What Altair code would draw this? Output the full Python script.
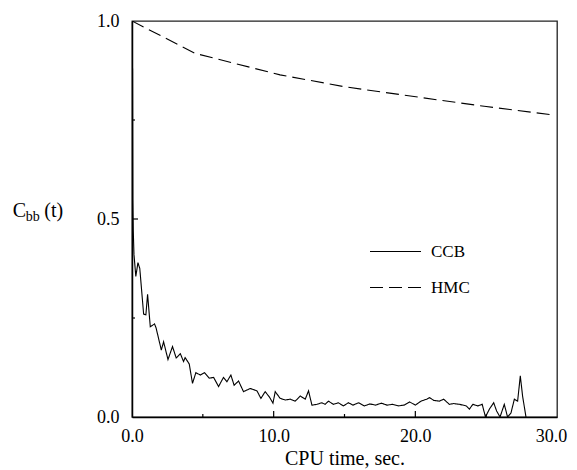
import altair as alt
import pandas as pd

# CCB series (CPU time in sec, C_bb)
ccb_t = [0.00, 0.02, 0.04, 0.06, 0.09, 0.14, 0.27, 0.42, 0.55, 0.82, 0.98, 1.10, 1.29, 1.59, 1.70,
         2.07, 2.23, 2.54, 2.86, 3.12, 3.41, 3.64, 3.75, 4.04, 4.27, 4.51, 4.82, 5.12, 5.45, 5.76,
         6.11, 6.46, 6.70, 6.98, 7.21, 7.52, 7.87, 8.35, 8.82, 9.10, 9.40, 9.69, 9.95, 10.11, 10.46,
         10.82, 11.17, 11.52, 11.88, 12.23, 12.46, 12.70, 13.05, 13.40, 13.63, 13.87, 14.22, 14.57,
         14.92, 15.27, 15.6, 16.0, 16.4, 16.8, 17.2, 17.6, 18.0, 18.4, 18.8, 19.2, 19.6, 20.0, 20.4,
         20.8, 21.0, 21.3, 21.7, 22.0, 22.4, 22.7, 23.12, 23.59, 23.82, 24.06, 24.41, 24.72, 24.95,
         25.23, 25.53, 25.74, 25.98, 26.28, 26.51, 26.75, 26.99, 27.22, 27.41, 27.57, 27.81]
ccb_c = [1.00, 0.70, 0.88, 0.55, 0.47, 0.41, 0.355, 0.39, 0.375, 0.26, 0.258, 0.31, 0.228, 0.235, 0.225,
         0.169, 0.19, 0.145, 0.178, 0.149, 0.16, 0.14, 0.15, 0.134, 0.085, 0.112, 0.106, 0.112, 0.098, 0.10,
         0.077, 0.10, 0.089, 0.106, 0.08, 0.091, 0.064, 0.072, 0.066, 0.047, 0.064, 0.051, 0.035, 0.064, 0.047,
         0.043, 0.045, 0.04, 0.053, 0.045, 0.066, 0.03, 0.032, 0.036, 0.032, 0.04, 0.032, 0.036,
         0.028, 0.036, 0.03, 0.036, 0.028, 0.033, 0.03, 0.035, 0.03, 0.032, 0.028, 0.03, 0.038, 0.03, 0.04,
         0.045, 0.049, 0.042, 0.04, 0.045, 0.032, 0.034, 0.032, 0.028, 0.02, 0.032, 0.028, 0.032, 0.0,
         0.02, 0.036, 0.015, 0.0, 0.032, 0.0, 0.01, 0.045, 0.04, 0.104, 0.053, 0.0]

# HMC series
hmc_t = [0.0, 4.47, 10.45, 15.0, 20.35, 25.0, 29.7]
hmc_c = [1.0, 0.918, 0.864, 0.834, 0.807, 0.784, 0.763]

x_labels = [0, 10, 20, 30]
y_labels = [0.0, 0.5, 1.0]
x_major_ticks = [10, 20]
x_minor_ticks = [5, 15, 25]
y_major_ticks = [0.5]
y_minor_ticks = [0.25, 0.75]

series = ["CCB", "HMC"]

df = pd.concat([
    pd.DataFrame({"t": ccb_t, "c": ccb_c, "method": "CCB"}),
    pd.DataFrame({"t": hmc_t, "c": hmc_c, "method": "HMC"}),
])

W, H = 425, 396
SERIF = "Liberation Serif"

xscale = alt.Scale(domain=[0, 30], nice=False, zero=False)
yscale = alt.Scale(domain=[0, 1], nice=False)

lines = alt.Chart(df).mark_line(color="black", strokeWidth=1.1, clip=True).encode(
    x=alt.X("t:Q", scale=xscale,
            axis=alt.Axis(values=x_labels, format=".1f", title="CPU time, sec.", grid=False,
                          ticks=False, labelPadding=10, titlePadding=3, domainColor="black",
                          domainWidth=1.5,
                          labelOffset={"condition": {"test": "datum.value == 30", "value": -6},
                                       "value": 0})),
    y=alt.Y("c:Q", scale=yscale,
            axis=alt.Axis(values=y_labels, format=".1f", title=None, grid=False, ticks=False,
                          labelPadding=13, domainColor="black", domainWidth=1.5)),
    strokeDash=alt.StrokeDash("method:N",
                              scale=alt.Scale(domain=series, range=[[1, 0], [13, 6]]),
                              legend=alt.Legend(title=None, orient="none", legendX=237, legendY=204,
                                                symbolType="stroke", symbolSize=2601,
                                                symbolStrokeColor="black", symbolStrokeWidth=1.2,
                                                labelFont=SERIF, labelFontSize=17, labelColor="black",
                                                labelOffset=9, rowPadding=1, padding=0)),
    order="t:Q",
)

def tick_layer(vals, axis, length):
    d = pd.DataFrame({"v": vals})
    if axis == "x":
        return alt.Chart(d).mark_rule(color="black", strokeWidth=1.2).encode(
            x=alt.X("v:Q", scale=xscale), y=alt.value(H), y2=alt.value(H - length))
    return alt.Chart(d).mark_rule(color="black", strokeWidth=1.2).encode(
        y=alt.Y("v:Q", scale=yscale), x=alt.value(0), x2=alt.value(length))

ticks = [tick_layer(x_major_ticks, "x", 6), tick_layer(x_minor_ticks, "x", 3),
         tick_layer(y_major_ticks, "y", 6), tick_layer(y_minor_ticks, "y", 3)]

def ytitle(txt, x, y, size):
    return alt.Chart(pd.DataFrame({"s": [txt]})).mark_text(
        font=SERIF, fontSize=size, align="left", baseline="alphabetic", color="black"
    ).encode(text="s:N", x=alt.value(x), y=alt.value(y))

ylab = [ytitle("C", 12.5 - 131.7, 217 - 21, 20),
        ytitle("bb", 25.5 - 131.7, 221 - 21, 14),
        ytitle("(t)", 44 - 131.7, 217 - 21, 20)]

chart = alt.layer(lines, *ticks, *ylab).properties(
    width=W, height=H,
    autosize=alt.AutoSizeParams(type="none"),
    padding={"left": 124, "top": 13, "right": 12, "bottom": 53},
).configure_view(stroke="#222", strokeWidth=1.3).configure_axis(
    labelFont=SERIF, labelFontSize=18, labelColor="black",
    titleFont=SERIF, titleFontSize=20, titleFontWeight="normal", titleColor="black",
).configure_axisX(labelAlign="center").configure_axisY(labelAlign="right")

chart.save("out.html", embed_options={"renderer": "svg", "actions": False})
